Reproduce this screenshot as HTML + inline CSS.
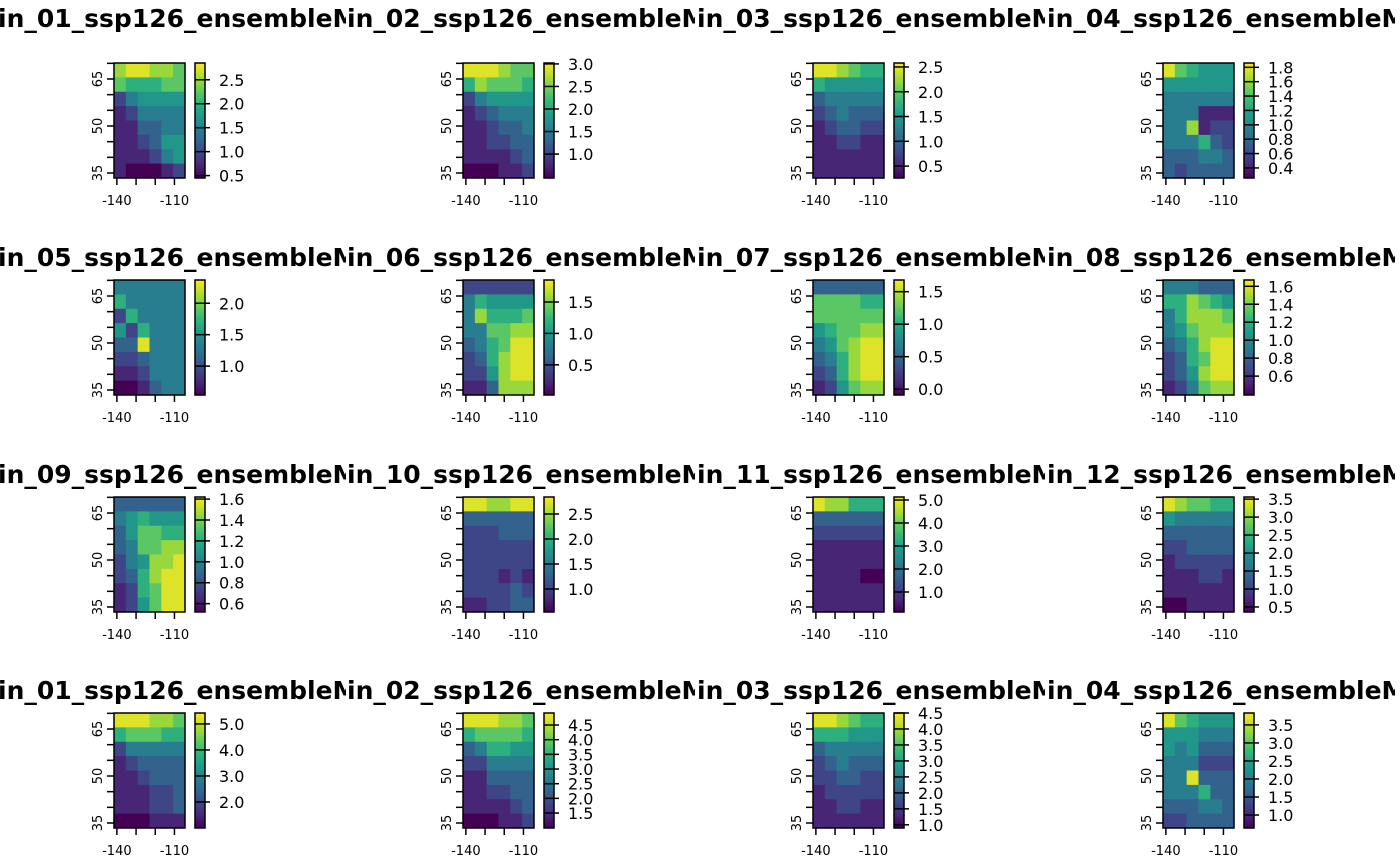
<!DOCTYPE html>
<html><head><meta charset="utf-8"><style>
html,body{margin:0;padding:0;background:#fff;}
svg{display:block;font-family:"DejaVu Sans","Liberation Sans",sans-serif;}
</style></head><body>
<svg id="fig" width="1400" height="866" viewBox="0 0 1400 866" xmlns="http://www.w3.org/2000/svg"></svg>
<script>
const panelTitles = ["tmin_01_ssp126_ensembleMean","tmin_02_ssp126_ensembleMean","tmin_03_ssp126_ensembleMean","tmin_04_ssp126_ensembleMean",
"tmin_05_ssp126_ensembleMean","tmin_06_ssp126_ensembleMean","tmin_07_ssp126_ensembleMean","tmin_08_ssp126_ensembleMean",
"tmin_09_ssp126_ensembleMean","tmin_10_ssp126_ensembleMean","tmin_11_ssp126_ensembleMean","tmin_12_ssp126_ensembleMean",
"tmin_01_ssp126_ensembleMean","tmin_02_ssp126_ensembleMean","tmin_03_ssp126_ensembleMean","tmin_04_ssp126_ensembleMean"];
const legendMin = [0.45,0.47,0.26,0.26, 0.54,0.02,-0.09,0.39, 0.52,0.54,0.13,0.36, 1.0,0.99,0.9,0.64];
const legendMax = [2.85,3.02,2.58,1.86, 2.37,1.85,1.68,1.67, 1.62,2.84,5.13,3.56, 5.42,4.91,4.5,3.83];
const legendTicks = [
["0.5","1.0","1.5","2.0","2.5"],["1.0","1.5","2.0","2.5","3.0"],["0.5","1.0","1.5","2.0","2.5"],["0.4","0.6","0.8","1.0","1.2","1.4","1.6","1.8"],
["1.0","1.5","2.0"],["0.5","1.0","1.5"],["0.0","0.5","1.0","1.5"],["0.6","0.8","1.0","1.2","1.4","1.6"],
["0.6","0.8","1.0","1.2","1.4","1.6"],["1.0","1.5","2.0","2.5"],["1.0","2.0","3.0","4.0","5.0"],["0.5","1.0","1.5","2.0","2.5","3.0","3.5"],
["2.0","3.0","4.0","5.0"],["1.5","2.0","2.5","3.0","3.5","4.0","4.5"],["1.0","1.5","2.0","2.5","3.0","3.5","4.0","4.5"],["1.0","1.5","2.0","2.5","3.0","3.5"]];
const latTicks = [35,40,45,50,55,60,65,70];
const latLabels = [35,50,65];
const lonTicks = [-140,-130,-120,-110];
const lonLabels = [-140,-110];
const cellLevels = [
["899887","766677","245555","124444","113344","112355","111245","100012"],
["999877","687776","245555","123444","112334","112233","111123","000112"],
["998766","655555","344444","234333","123322","112211","111111","111111"],
["976555","555555","444444","444111","448122","444632","333443","323333"],
["444444","644444","264444","526444","339444","223444","112444","001344"],
["222222","465555","486667","447788","346799","236899","225899","113888"],
["333333","777766","777777","567788","457899","346899","236899","125788"],
["444333","668765","468887","457888","346899","236799","235899","124788"],
["333333","456555","357766","347788","245889","236899","126799","125799"],
["998899","333333","222333","222222","222222","222121","222232","112233"],
["988666","333333","222222","111111","111111","111100","111111","111111"],
["987766","544444","333333","223333","122222","111221","111111","001111"],
["999887","677766","244444","123333","112333","111223","111223","000111"],
["999887","677776","346655","224444","113333","112233","111123","000112"],
["998766","666555","344444","234333","223322","122222","112211","111111"],
["976555","555444","545333","444222","449333","444633","333443","223333"]];

const colOff=[0,349,699,1049], rowOff=[0,217,434,650];
const MX0=114,MX1=185,MY0=63,MY1=178;
const VIR=["#440154","#482878","#3e4989","#31688e","#26828e","#1f9e89","#35b779","#6ece58","#b5de2b","#fde725"];
function vir(t){t=Math.max(0,Math.min(1,t));const p=t*9,i=Math.min(8,Math.floor(p)),f=p-i;
 const a=VIR[i],b=VIR[i+1];const c=k=>Math.round(parseInt(a.substr(k,2),16)*(1-f)+parseInt(b.substr(k,2),16)*f);
 return "rgb("+c(1)+","+c(3)+","+c(5)+")";}
const lonX=v=>MX0+(v-(-141.5))/(37)*(MX1-MX0);
const latY=v=>173+(35-v)*(47/15);
const NS="http://www.w3.org/2000/svg";
const svg=document.getElementById('fig');
function mk(tag,attrs,parent){const e=document.createElementNS(NS,tag);for(const k in attrs)e.setAttribute(k,attrs[k]);parent.appendChild(e);return e;}
const defs=mk('defs',{},svg);
const grad=mk('linearGradient',{id:'vg',x1:0,y1:1,x2:0,y2:0},defs);
VIR.forEach((c,i)=>mk('stop',{offset:(i/9),'stop-color':c},grad));
panelTitles.forEach((title,p)=>{
 const ox=colOff[p%4], row=Math.floor(p/4), oy=rowOff[row];
 const cp=mk('clipPath',{id:'cp'+p},defs);
 mk('rect',{x:0,y:-30,width:346,height:247},cp);
 const g=mk('g',{transform:`translate(${ox},${oy})`,'clip-path':`url(#cp${p})`},svg);
 
 
 const t=mk('text',{x:-40,y:row===0?27:49,'font-size':25,'font-weight':'bold',fill:'#000'},g);
 
 
 t.textContent=title;
 const rows=cellLevels[p], nr=rows.length, nc=rows[0].length;
 const cw=(MX1-MX0)/nc, ch=(MY1-MY0)/nr;
 rows.forEach((r,ri)=>{for(let ci=0;ci<nc;ci++){
  const c=mk('rect',{x:MX0+ci*cw,y:MY0+ri*ch,width:cw+0.4,height:ch+0.4,fill:vir(+r[ci]/9*0.95)},g);
  
  
 }});
 const fr=mk('rect',{x:MX0,y:MY0,width:MX1-MX0,height:MY1-MY0,fill:'none',stroke:'#000','stroke-width':1.5},g);
 
 
 latTicks.forEach(v=>mk('line',{x1:107,x2:MX0,y1:latY(v),y2:latY(v),stroke:'#000','stroke-width':1.5},g));
 latLabels.forEach(v=>{const y=latY(v);const l=mk('text',{x:0,y:0,'font-size':13,'text-anchor':'middle',transform:`translate(102,${y}) rotate(-90)`},g);
  
  
  l.textContent=v;});
 lonTicks.forEach(v=>mk('line',{x1:lonX(v),x2:lonX(v),y1:MY1,y2:MY1+7,stroke:'#000','stroke-width':1.5},g));
 lonLabels.forEach(v=>{const l=mk('text',{x:lonX(v),y:205,'font-size':13,'text-anchor':'middle'},g);
  
  
  l.textContent=v;});
 const lb=mk('rect',{x:195,y:MY0,width:10,height:MY1-MY0,fill:'url(#vg)',stroke:'#000','stroke-width':1.5},g);
 
 
 const lo=legendMin[p], hi=legendMax[p];
 legendTicks[p].forEach(s=>{const y=MY1-(+s-lo)/(hi-lo)*(MY1-MY0);
  mk('line',{x1:195,x2:210,y1:y,y2:y,stroke:'#000','stroke-width':1.5},g);
  const l=mk('text',{x:219,y:y+6,'font-size':16},g);
  
  
  l.textContent=s;});
});
</script>
</body></html>
